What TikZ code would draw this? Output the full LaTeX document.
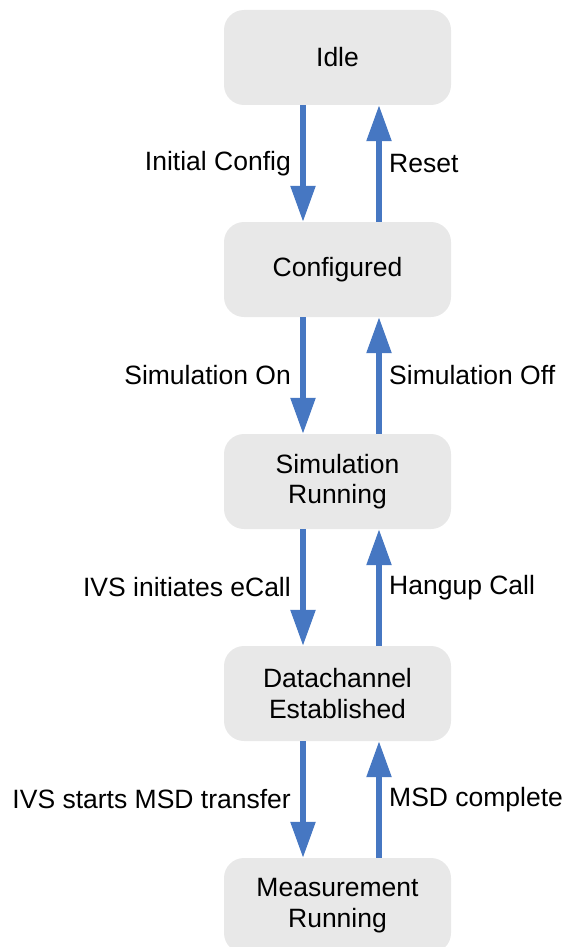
\documentclass[tikz,border=0pt]{standalone}
\usepackage{fontspec}
\setmainfont{Liberation Sans}
\usetikzlibrary{arrows.meta}
\definecolor{boxgray}{HTML}{E8E8E8}
\definecolor{arrblue}{HTML}{4677C2}
\begin{document}
\begin{tikzpicture}[x=1pt,y=1pt,
  state/.style={fill=boxgray, rounded corners=20pt, minimum width=227pt, minimum height=95pt,
    align=center, inner sep=0pt, font=\fontsize{26.5}{30.5}\selectfont},
  trans/.style={draw=arrblue, line width=5.5pt, -{Triangle[width=24pt,length=36pt]}, shorten >=0pt, shorten <=0pt},
  lbl/.style={inner sep=0pt, font=\fontsize{26.5}{30.5}\selectfont}]
\useasboundingbox (0,0) rectangle (566,-947);
\clip (0,0) rectangle (566,-947);
\node[state] (idle) at (337.5,-57.5) {Idle};
\node[state] (conf) at (337.5,-269.5) {Configured};
\node[state] (sim)  at (337.5,-481.5) {Simulation\\Running};
\node[state] (data) at (337.5,-693.5) {Datachannel\\Established};
\node[state] (meas) at (337.5,-905.5) {Measurement\\Running};
% down arrows
\draw[trans] (idle.south -| 303,0) -- (conf.north -| 303,0) coordinate[midway] (d1);
\draw[trans] (conf.south -| 303,0) -- (sim.north -| 303,0) coordinate[midway] (d2);
\draw[trans] (sim.south -| 303,0) -- (data.north -| 303,0) coordinate[midway] (d3);
\draw[trans] (data.south -| 303,0) -- (meas.north -| 303,0) coordinate[midway] (d4);
% up arrows
\draw[trans] (conf.north -| 379,0) -- (idle.south -| 379,0) coordinate[midway] (u1);
\draw[trans] (sim.north -| 379,0) -- (conf.south -| 379,0) coordinate[midway] (u2);
\draw[trans] (data.north -| 379,0) -- (sim.south -| 379,0) coordinate[midway] (u3);
\draw[trans] (meas.north -| 379,0) -- (data.south -| 379,0) coordinate[midway] (u4);
% labels
\node[lbl, anchor=east] (l1) at ([xshift=-12pt]d1) {Initial Config};
\node[lbl, anchor=east] (l2) at ([xshift=-12pt]d2) {Simulation On};
\node[lbl, anchor=east] (l3) at ([xshift=-12pt]d3) {IVS initiates eCall};
\node[lbl, anchor=east] (l4) at ([xshift=-12pt]d4) {IVS starts MSD transfer};
\node[lbl, anchor=west] (r1) at ([xshift=10pt]u1) {Reset};
\node[lbl, anchor=west] (r2) at ([xshift=10pt]u2) {Simulation Off};
\node[lbl, anchor=west] (r3) at ([xshift=10pt]u3) {Hangup Call};
\node[lbl, anchor=west] (r4) at ([xshift=10pt]u4) {MSD complete};
\end{tikzpicture}
\end{document}
